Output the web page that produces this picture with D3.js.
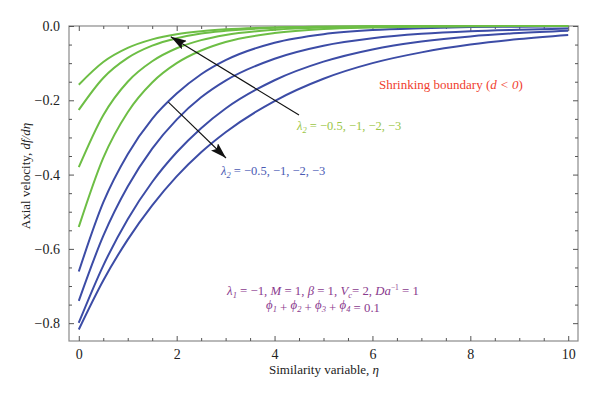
<!DOCTYPE html>
<html>
<head>
<meta charset="utf-8">
<script src="https://cdn.jsdelivr.net/npm/d3@7"></script>
<style>
    body { margin: 0; background: #fff; }
    svg { display: block; font-family: 'Liberation Serif', 'DejaVu Serif', serif; }
</style>
</head>
<body>
<div id="chart"></div>
<script>
// data (axial velocity f'(eta))
const eta = [0, 0.5, 1, 1.5, 2, 2.5, 3, 4, 5, 6, 7, 8, 9, 10];

// green family, lambda2 = -0.5, -1, -2, -3
const green1 = [-0.158, -0.097, -0.059, -0.036, -0.022, -0.014, -0.009, -0.004, -0.002, -0.001, 0, 0, 0, 0];
const green2 = [-0.226, -0.140, -0.086, -0.053, -0.033, -0.020, -0.013, -0.005, -0.002, -0.001, 0, 0, 0, 0];
const green3 = [-0.380, -0.240, -0.150, -0.095, -0.060, -0.038, -0.024, -0.010, -0.004, -0.002, -0.001, 0, 0, 0];
const green4 = [-0.541, -0.355, -0.232, -0.152, -0.100, -0.066, -0.043, -0.019, -0.008, -0.004, -0.002, -0.001, 0, 0];

// blue family, lambda2 = -0.5, -1, -2, -3
const blue1 = [-0.661, -0.475, -0.345, -0.250, -0.182, -0.130, -0.092, -0.045, -0.022, -0.011, -0.006, -0.003, -0.002, -0.001];
const blue2 = [-0.740, -0.565, -0.432, -0.330, -0.252, -0.192, -0.147, -0.088, -0.053, -0.033, -0.021, -0.014, -0.010, -0.007];
const blue3 = [-0.799, -0.645, -0.520, -0.420, -0.340, -0.275, -0.222, -0.146, -0.096, -0.063, -0.042, -0.028, -0.019, -0.013];
const blue4 = [-0.817, -0.685, -0.575, -0.483, -0.405, -0.340, -0.286, -0.202, -0.142, -0.100, -0.071, -0.050, -0.035, -0.024];

const xTicks = [0, 2, 4, 6, 8, 10];
const yTicks = [0, -0.2, -0.4, -0.6, -0.8];

const greenColor = '#6dbe45';
const blueColor = '#3c4ca6';

const width = 600, height = 398;
const mLeft = 69, mRight = 578, mTop = 26, mBottom = 341;

const svg = d3.select('#chart').append('svg')
    .attr('width', width)
    .attr('height', height);

const x = d3.scaleLinear().domain([-0.2, 10.2]).range([mLeft, mRight]);
const y = d3.scaleLinear().domain([-0.848, 0]).range([mBottom, mTop]);

// frame
svg.append('rect')
    .attr('x', mLeft).attr('y', mTop)
    .attr('width', mRight - mLeft).attr('height', mBottom - mTop)
    .attr('fill', 'none')
    .attr('stroke', '#8a8a8a')
    .attr('stroke-width', 1.2);

const xMinor = d3.range(0, 10.01, 0.5).filter(v => v % 2 !== 0);
const yMinor = d3.range(0, -0.846, -0.05).map(v => +v.toFixed(2)).filter(v => Math.abs(v * 10 % 2) > 0.01);

function styleAxis(g) {
    g.select('.domain').remove();
    g.selectAll('.tick line').attr('stroke', '#555').attr('stroke-width', 1);
    g.selectAll('.tick text')
        .attr('fill', '#222')
        .style('font-size', '14px')
        .style('font-family', "'Liberation Serif', serif");
}

// bottom / left with labels
svg.append('g')
    .attr('transform', `translate(0,${mBottom})`)
    .call(d3.axisBottom(x).tickValues(xTicks).tickSizeInner(-5).tickSizeOuter(0).tickPadding(8).tickFormat(d3.format('d')))
    .call(styleAxis);
svg.append('g')
    .attr('transform', `translate(${mLeft},0)`)
    .call(d3.axisLeft(y).tickValues(yTicks).tickSizeInner(-5).tickSizeOuter(0).tickPadding(9).tickFormat(d3.format('.1f')))
    .call(styleAxis);

// top / right, ticks only
svg.append('g')
    .attr('transform', `translate(0,${mTop})`)
    .call(d3.axisTop(x).tickValues(xTicks).tickSizeInner(-5).tickSizeOuter(0).tickFormat(''))
    .call(styleAxis);
svg.append('g')
    .attr('transform', `translate(${mRight},0)`)
    .call(d3.axisRight(y).tickValues(yTicks).tickSizeInner(-5).tickSizeOuter(0).tickFormat(''))
    .call(styleAxis);

// minor ticks on all sides
[[d3.axisBottom, mBottom, x, xMinor, 'h'], [d3.axisTop, mTop, x, xMinor, 'h'],
 [d3.axisLeft, mLeft, y, yMinor, 'v'], [d3.axisRight, mRight, y, yMinor, 'v']].forEach(([ax, pos, sc, vals, dir]) => {
    svg.append('g')
        .attr('transform', dir === 'h' ? `translate(0,${pos})` : `translate(${pos},0)`)
        .call(ax(sc).tickValues(vals).tickSizeInner(-3).tickSizeOuter(0).tickFormat(''))
        .call(styleAxis);
});

// curves
const line = d3.line()
    .curve(d3.curveMonotoneX)
    .x((d, i) => x(eta[i]))
    .y(d => y(d));

svg.append('clipPath').attr('id', 'clip')
    .append('rect')
    .attr('x', mLeft).attr('y', mTop - 2)
    .attr('width', mRight - mLeft).attr('height', mBottom - mTop + 2);
const plot = svg.append('g')
    .attr('clip-path', 'url(#clip)');

[blue1, blue2, blue3, blue4].forEach(s => {
    plot.append('path')
        .attr('d', line(s))
        .attr('fill', 'none')
        .attr('stroke', blueColor)
        .attr('stroke-width', 2);
});
[green1, green2, green3, green4].forEach(s => {
    plot.append('path')
        .attr('d', line(s))
        .attr('fill', 'none')
        .attr('stroke', greenColor)
        .attr('stroke-width', 2);
});

// arrows
const defs = svg.append('defs');
defs.append('marker')
    .attr('id', 'head')
    .attr('viewBox', '0 0 16 10')
    .attr('refX', 16).attr('refY', 5)
    .attr('markerWidth', 16).attr('markerHeight', 10)
    .attr('markerUnits', 'userSpaceOnUse')
    .attr('orient', 'auto')
    .append('path')
    .attr('d', 'M0,0 L16,5 L0,10 L3,5 Z')
    .attr('fill', '#111');

svg.append('line')
    .attr('x1', 299).attr('y1', 115)
    .attr('x2', x(1.88)).attr('y2', y(-0.029))
    .attr('stroke', '#111').attr('stroke-width', 1.1)
    .attr('marker-end', 'url(#head)');

svg.append('line')
    .attr('x1', x(1.83)).attr('y1', y(-0.205))
    .attr('x2', 226).attr('y2', 158)
    .attr('stroke', '#111').attr('stroke-width', 1.1)
    .attr('marker-end', 'url(#head)');

// annotations
function lambda2(g, cx, cy, color) {
    const t = g.append('text')
        .attr('x', cx).attr('y', cy)
        .attr('fill', color)
        .style('font-size', '12.5px');
    t.append('tspan').style('font-style', 'italic').text('λ');
    t.append('tspan').attr('dy', 3).style('font-size', '8.5px').style('font-style', 'italic').text('2');
    t.append('tspan').attr('dy', -3).text(' = −0.5, −1, −2, −3');
}
lambda2(svg, 297, 130, '#9cc646');
lambda2(svg, 221, 175, '#4a5ab4');

const shrink = svg.append('text')
    .attr('x', 379).attr('y', 89)
    .attr('fill', '#f0402e')
    .style('font-size', '13px');
shrink.append('tspan').text('Shrinking boundary (');
shrink.append('tspan').style('font-style', 'italic').text('d < 0');
shrink.append('tspan').text(')');

const purple = '#8a3a8e';
const p1 = svg.append('text')
    .attr('x', 323).attr('y', 295)
    .attr('text-anchor', 'middle')
    .attr('fill', purple)
    .style('font-size', '12.8px')
    .style('font-style', 'italic');
p1.append('tspan').text('λ');
p1.append('tspan').attr('dy', 3).style('font-size', '8.5px').text('1');
p1.append('tspan').attr('dy', -3).style('font-style', 'normal').text(' = −1, ');
p1.append('tspan').text('M');
p1.append('tspan').style('font-style', 'normal').text(' = 1, ');
p1.append('tspan').text('β');
p1.append('tspan').style('font-style', 'normal').text(' = 1, ');
p1.append('tspan').text('V');
p1.append('tspan').attr('dy', 3).style('font-size', '8.5px').text('c');
p1.append('tspan').attr('dy', -3).style('font-style', 'normal').text('= 2, ');
p1.append('tspan').text('Da');
p1.append('tspan').attr('dy', -5).style('font-size', '7.5px').style('font-style', 'normal').text('−1');
p1.append('tspan').attr('dy', 5).style('font-style', 'normal').text(' = 1');

const p2 = svg.append('text')
    .attr('x', 323).attr('y', 309)
    .attr('text-anchor', 'middle')
    .attr('fill', purple)
    .style('font-size', '12.8px')
    .style('font-style', 'italic');
['1', '2', '3', '4'].forEach((n, i) => {
    p2.append('tspan').attr('dy', i === 0 ? 0 : -3).text('ϕ');
    p2.append('tspan').attr('dy', 3).style('font-size', '8.5px').text(n);
    p2.append('tspan').style('font-style', 'normal').text(i < 3 ? ' + ' : ' = 0.1');
});

// axis titles
svg.append('text')
    .attr('x', 324).attr('y', 374)
    .attr('text-anchor', 'middle')
    .attr('fill', '#222')
    .style('font-size', '13px')
    .call(t => {
        t.append('tspan').text('Similarity variable, ');
        t.append('tspan').style('font-style', 'italic').text('η');
    });

svg.append('text')
    .attr('transform', 'translate(30,176) rotate(-90)')
    .attr('text-anchor', 'middle')
    .attr('fill', '#222')
    .style('font-size', '13px')
    .call(t => {
        t.append('tspan').text('Axial velocity, ');
        t.append('tspan').style('font-style', 'italic').text('df/dη');
    });
</script>
</body>
</html>
